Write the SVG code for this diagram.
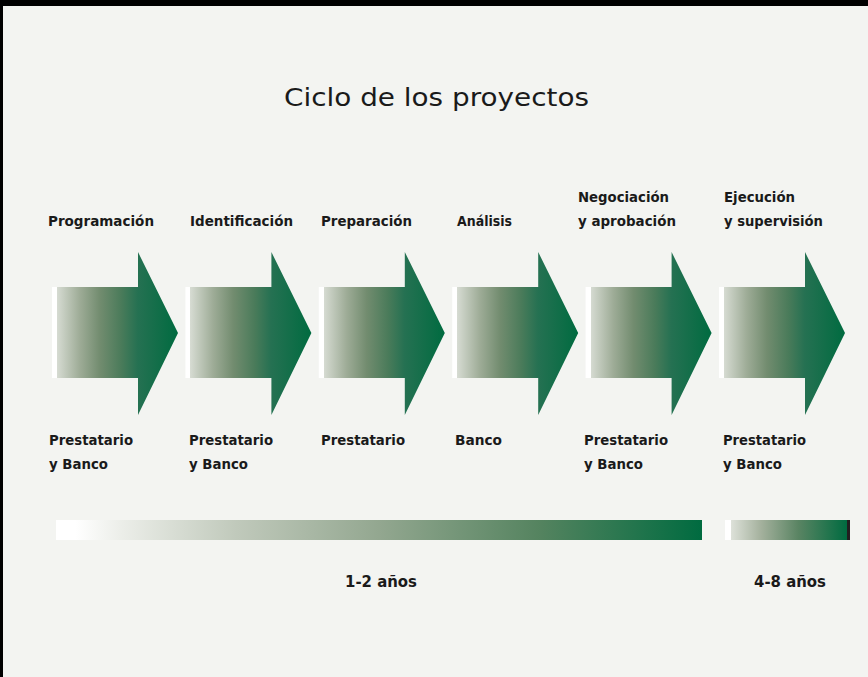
<svg xmlns="http://www.w3.org/2000/svg" width="868" height="677" viewBox="0 0 868 677">
<defs>
<style>
.t{font-family:"DejaVu Sans",Verdana,sans-serif;font-weight:bold;font-size:14px;fill:#1a1a1a}
.y{font-family:"DejaVu Sans",Verdana,sans-serif;font-weight:bold;font-size:15px;fill:#1a1a1a}
.title{font-family:"DejaVu Sans",Verdana,sans-serif;font-size:25px;fill:#1a1a1a}
</style>
<linearGradient id="ag" x1="0" y1="0" x2="1" y2="0">
<stop offset="0" stop-color="#ffffff"/>
<stop offset="0.04" stop-color="#ffffff"/>
<stop offset="0.04" stop-color="#d6dbd2"/>
<stop offset="0.22" stop-color="#9eac97"/>
<stop offset="0.38" stop-color="#728c6f"/>
<stop offset="0.55" stop-color="#4a7b5a"/>
<stop offset="0.68" stop-color="#257152"/>
<stop offset="1" stop-color="#006b40"/>
</linearGradient>
<linearGradient id="bg1" x1="0" y1="0" x2="1" y2="0">
<stop offset="0" stop-color="#ffffff"/>
<stop offset="0.03" stop-color="#ffffff"/>
<stop offset="0.1" stop-color="#eceee9"/>
<stop offset="0.28" stop-color="#c0c9bb"/>
<stop offset="0.5" stop-color="#93a790"/>
<stop offset="0.75" stop-color="#54835f"/>
<stop offset="1" stop-color="#006b40"/>
</linearGradient>
<linearGradient id="bg2" x1="0" y1="0" x2="1" y2="0">
<stop offset="0" stop-color="#ffffff"/>
<stop offset="0.05" stop-color="#ffffff"/>
<stop offset="0.05" stop-color="#dde1d9"/>
<stop offset="0.3" stop-color="#a3b09c"/>
<stop offset="0.6" stop-color="#5a8463"/>
<stop offset="1" stop-color="#006b40"/>
</linearGradient>
<polygon id="arr" points="0,287 86,287 86,252 126,333 86,415 86,378 0,378" fill="url(#ag)"/>
</defs>
<rect x="0" y="0" width="868" height="677" fill="#f3f4f1"/>
<rect x="0" y="0" width="868" height="6" fill="#000"/>
<rect x="0" y="0" width="3" height="677" fill="#000"/>
<text class="title" x="284" y="106" textLength="305" lengthAdjust="spacingAndGlyphs">Ciclo de los proyectos</text>
<g id="n1">
<use href="#arr" x="52"/>
<text class="t" x="48" y="226" textLength="106" lengthAdjust="spacingAndGlyphs">Programación</text>
<text class="t" x="49" y="445" textLength="84" lengthAdjust="spacingAndGlyphs">Prestatario</text>
<text class="t" x="49" y="469" textLength="59" lengthAdjust="spacingAndGlyphs">y Banco</text>
</g>
<g id="n2">
<use href="#arr" x="185.4"/>
<text class="t" x="190" y="226" textLength="103" lengthAdjust="spacingAndGlyphs">Identificación</text>
<text class="t" x="189" y="445" textLength="84" lengthAdjust="spacingAndGlyphs">Prestatario</text>
<text class="t" x="189" y="469" textLength="59" lengthAdjust="spacingAndGlyphs">y Banco</text>
</g>
<g id="n3">
<use href="#arr" x="318.8"/>
<text class="t" x="321" y="226" textLength="91" lengthAdjust="spacingAndGlyphs">Preparación</text>
<text class="t" x="321" y="445" textLength="84" lengthAdjust="spacingAndGlyphs">Prestatario</text>
</g>
<g id="n4">
<use href="#arr" x="452.2"/>
<text class="t" x="457" y="226" textLength="55" lengthAdjust="spacingAndGlyphs">Análisis</text>
<text class="t" x="455" y="445" textLength="47" lengthAdjust="spacingAndGlyphs">Banco</text>
</g>
<g id="n5">
<use href="#arr" x="585.6"/>
<text class="t" x="578" y="202" textLength="91" lengthAdjust="spacingAndGlyphs">Negociación</text>
<text class="t" x="578" y="226" textLength="98" lengthAdjust="spacingAndGlyphs">y aprobación</text>
<text class="t" x="584" y="445" textLength="84" lengthAdjust="spacingAndGlyphs">Prestatario</text>
<text class="t" x="584" y="469" textLength="59" lengthAdjust="spacingAndGlyphs">y Banco</text>
</g>
<g id="n6">
<use href="#arr" x="719"/>
<text class="t" x="724" y="202" textLength="71" lengthAdjust="spacingAndGlyphs">Ejecución</text>
<text class="t" x="724" y="226" textLength="99" lengthAdjust="spacingAndGlyphs">y supervisión</text>
<text class="t" x="723" y="445" textLength="83" lengthAdjust="spacingAndGlyphs">Prestatario</text>
<text class="t" x="723" y="469" textLength="59" lengthAdjust="spacingAndGlyphs">y Banco</text>
</g>
<g id="timeline">
<rect x="56" y="520" width="646" height="20" fill="url(#bg1)"/>
<rect x="725" y="520" width="122" height="20" fill="url(#bg2)"/>
<rect x="847" y="520" width="3" height="20" fill="#231f20"/>
<text class="y" x="345" y="587" textLength="72" lengthAdjust="spacingAndGlyphs">1-2 años</text>
<text class="y" x="754" y="587" textLength="72" lengthAdjust="spacingAndGlyphs">4-8 años</text>
</g>
<g id="connectors"/>
</svg>
